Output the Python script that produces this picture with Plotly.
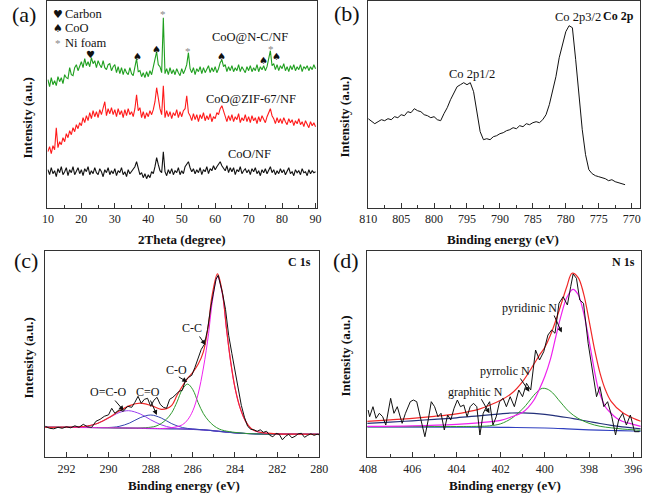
import numpy as np
import plotly.graph_objects as go

W, H = 658, 495
FONT = "Liberation Serif, Times New Roman, serif"
SYM = "DejaVu Sans, sans-serif"

# ---------------- (a) XRD ----------------
two_theta = np.arange(10, 90.01, 0.5)
xrd_nc = [128,121,130,123,127,122,131,126,130,124,
          133,130,129,140,133,132,140,143,137,142,
          146,140,149,142,146,141,150,144,147,140,
          147,143,140,147,140,138,143,144,137,141,
          143,135,141,134,140,133,139,135,133,140,
          134,132,140,149,136,137,131,135,130,136,
          131,137,133,141,147,156,143,141,135,190,
          134,139,133,140,134,138,133,139,135,132,
          139,134,138,143,155,139,135,140,133,139,
          136,141,134,140,135,138,142,135,140,136,
          141,135,139,145,148,141,143,136,141,137,
          142,136,140,137,143,136,141,138,135,141,
          137,142,136,140,137,143,136,141,138,142,
          137,141,148,157,142,144,138,143,137,142,
          139,144,137,141,136,142,138,143,137,141,
          138,143,136,141,139,142,137,141,138,143,
          139]
xrd_zif = [56,61,54,62,58,80,60,66,63,70,
           66,74,70,77,73,80,76,83,79,85,
           82,90,85,92,87,95,89,97,91,96,
           90,98,93,101,106,92,99,94,100,93,
           98,91,99,93,97,90,98,92,99,93,
           96,91,99,113,97,100,90,96,89,95,
           91,97,93,98,106,120,107,99,93,122,
           90,97,91,96,89,95,92,98,90,96,
           91,97,99,112,95,92,87,94,88,93,
           86,93,89,95,87,92,88,94,86,91,
           89,95,93,99,102,96,91,86,92,87,
           93,86,91,88,94,85,90,87,93,86,
           91,85,92,87,90,84,91,86,92,88,
           85,91,95,99,92,89,84,90,85,89,
           84,90,86,83,89,85,88,82,87,84,
           89,83,86,81,87,84,80,86,82,85,
           81]
xrd_coo = [38,33,40,34,37,31,39,35,41,33,
           36,40,32,38,35,41,33,37,40,34,
           38,32,39,36,41,33,37,34,40,35,
           33,39,36,31,38,35,40,33,37,34,
           39,32,37,35,40,33,36,31,38,34,
           36,39,41,46,38,33,35,30,34,29,
           33,30,36,34,41,50,43,37,35,56,
           36,32,38,34,39,33,37,35,40,33,
           37,34,41,44,46,40,36,39,34,38,
           35,40,33,38,36,41,34,39,37,42,
           38,41,44,46,42,39,37,42,35,40,
           36,40,33,38,36,41,34,37,39,35,
           38,33,39,36,40,34,37,32,38,35,
           39,34,37,41,35,38,33,37,34,39,
           35,38,33,37,40,34,36,32,38,35,
           37,33,39,35,36,32,38,34,37,35,
           36]

# ---------------- (b) Co 2p ----------------
co2p_be = np.arange(810, 770.9, -0.5)
co2p_int = [89,86,84,86,88,87,89,88,91,90,
            93,92,96,95,99,97,96,93,92,90,
            91,88,87,94,100,108,115,121,123,125,
            123,125,116,94,76,68,69,68,71,72,
            74,75,77,78,80,79,82,81,84,83,
            85,86,85,88,93,103,116,131,150,164,
            176,182,180,148,115,78,53,38,34,32,
            31,30,29,27,28,26,25,24,23]

# ---------------- (c) C 1s ----------------
c1s_raw_be = [293.0,292.8,292.6,292.4,292.2,292.0,291.8,291.6,291.4,291.2,
              291.0,290.8,290.6,290.4,290.2,290.0,289.85,289.7,289.5,289.3,
              289.1,288.9,288.75,288.6,288.45,288.3,288.15,288.0,287.85,287.7,
              287.55,287.4,287.25,287.1,286.95,286.8,286.65,286.5,286.35,286.2,
              286.05,285.9,285.75,285.6,285.45,285.3,285.15,285.0,284.9,284.8,
              284.7,284.6,284.45,284.3,284.15,284.0,283.85,283.7,283.55,283.4,
              283.25,283.1,282.95,282.8,282.65,282.5,282.35,282.2,282.05,281.9,
              281.75,281.6,281.45,281.3,281.15,281.0,280.85,280.7,280.55,280.4,
              280.25,280.1,280.0]
c1s_raw = [31,29,28.5,30,29,30.5,29.5,31.5,30,33,
           30.5,30,36,38,41,42.5,49,44,47.5,46,
           51,50,55,61,54,58,59,51,57,60,
           53,50,49,58,60,63,66,67,77,80,
           82,90,98,108,113,128,150,166,178,182,
           173,165,148,122,104,86,70,52,40,31,
           28,27.5,26,27.5,25,26,22,20.5,24,23,
           17.5,21,23,19.5,21,23.5,24,20,22,23.5,
           22,23,22.5]
c1s_env_be = [293,292,291.5,291,290.5,290,289.5,289,288.5,288,
              287.5,287.25,287,286.75,286.5,286.25,286,285.75,285.5,285.25,
              285.1,284.83,284.6,284.4,284.2,284,283.75,283.5,283.25,283,
              282.5,282,281,280]
c1s_env = [30,30.1,30.3,31.3,34.1,39.5,46.2,51.7,54.1,51.9,
           48,48.7,52,62,71,79,85,93,105.5,134,
           160,183.5,164.8,128.2,95.1,69.7,48.9,36.2,29,26,
           24.1,23.4,23.1,23]
c1s_cc_be = [293,290,288,287.5,287,286.5,286.25,286,285.75,285.5,285.25,285.1,
             284.83,284.6,284.4,284.2,284,283.75,283.5,283.25,283,282.5,282,281,280]
c1s_cc = [30,29.5,29,28.8,29.6,32.5,37.4,46.6,63.3,89.3,124,152,
          180.8,163.3,127.3,94.5,69.3,48.9,36.2,29,26,24.1,23.4,23.1,23]
c1s_co_be = [293,291,289,288.5,288,287.75,287.5,287.25,287,286.75,286.5,286.25,
             286,285.75,285.5,285.25,285,284.75,284.5,284,283.5,283,282,280]
c1s_co = [30,29.8,29.2,29.3,30.1,31.2,33.8,38.1,44.7,55.4,67.9,73.2,
          67.6,54.7,43.7,36.5,31.5,28.3,26.6,24.9,23.9,23.4,23.2,23]
c1s_c_o_be = [293,292,291,290,289.5,289,288.5,288,287.5,287,286.5,286,285.5,285,284,283,282,280]
c1s_c_o = [30,30,29.8,29.8,30.9,34.3,39.6,42.3,39.3,33.6,29.8,28.3,27.5,26.5,24.5,23.4,23.2,23]
c1s_oco_be = [293,292,291,290.5,290,289.5,289.05,288.5,288,287.5,287,286.5,286,285,284,283,282,280]
c1s_oco = [30,30.1,31.3,34.1,39.2,44.7,46.6,43.4,37.5,32.5,29.6,28.6,28.1,26.5,24.5,23.4,23.2,23]
c1s_bg_be = [293,291,289,287,286,285.5,285,284.5,284,283.5,283,282,280]
c1s_bg = [30,29.8,29.2,28.5,28,27.5,26.5,25.5,24.5,23.8,23.4,23.2,23]

# ---------------- (d) N 1s ----------------
n1s_raw_be = [408.0,407.93,407.78,407.64,407.49,407.34,407.2,406.98,406.83,406.68,
              406.46,406.31,406.09,405.95,405.8,405.58,405.43,405.28,405.14,404.99,
              404.84,404.7,404.55,404.4,404.26,404.11,403.96,403.82,403.67,403.52,
              403.38,403.23,403.08,402.94,402.79,402.64,402.5,402.35,402.2,402.05,
              401.89,401.74,401.57,401.38,401.18,401.01,400.83,400.64,400.42,400.24,
              400.05,399.86,399.69,399.54,399.36,399.17,398.98,398.83,398.72,398.57,
              398.42,398.25,398.04,397.85,397.66,397.51,397.33,397.16,396.97,396.8,
              396.66,396.48,396.31,396.13,395.94,395.72]
n1s_raw = [47.3,40.6,50.6,39,44,40.6,32.3,59,44,50.6,
           34,44,55.6,57.3,55.6,34,20.6,37.3,55.6,50.6,
           40.6,44,27.3,42.3,37.3,49,57.3,50.6,52.3,40.6,
           50.6,54,50.6,22.3,44,50.6,55.6,32.3,40.6,55.6,
           59,50.6,60.6,50.6,67.3,60.6,74,67.3,107.3,97.3,
           105.6,122.3,127.3,124,154,160.6,152.3,170.6,183.3,179,
           157.3,154,114,87.3,60.6,70.6,50.6,55.6,40.6,22.3,
           37.3,44,32.3,42.3,25.6,25.6]
n1s_env_be = [408.04,407,406,405,404,403.5,403,402.5,402,401.5,401,400.5,400.25,400,
              399.75,399.5,399.25,399,398.77,398.5,398.25,398,397.75,397.5,397.25,397,
              396.5,396,395.66]
n1s_env = [36,37.5,39,41,43.5,45.5,48,52,57,64,76,93,102,110,
           122,137,154,171,184,180,164,137,108,84,67,56,
           45,39,36]
n1s_pyridinic_be = [408.04,406,404,403,402,401.5,401,400.75,400.5,400.25,400,399.75,
                    399.5,399.25,399,398.73,398.5,398.25,398,397.75,397.6,397.5,397.25,
                    397,396.75,396.5,396,395.66]
n1s_pyridinic = [31,31.5,33,34.5,37,40.5,45,50,57,68,81,98,
                 121,143,160,168,163,145,117,86,70,63,50,
                 44,39,36,33,31]
n1s_pyrrolic_be = [408.04,404,403,402.5,402,401.5,401.25,401,400.75,400.5,400.25,400.1,
                   399.9,399.65,399.4,399.15,398.9,398.5,398,397.5,397,396.5,396,395.66]
n1s_pyrrolic = [30.5,30.8,31,31.5,33.5,39,43.5,48.5,55,62,67.5,69,
                68.3,64.5,58,51.5,45.5,39,34,31,29.5,28.3,27.5,27]
n1s_graphitic_be = [408.04,407,406,405,404,403,402,401.5,401,400.5,400,399.5,399,398.5,
                    398,397.5,397,396.5,396,395.66]
n1s_graphitic = [34,35.2,36.5,38,39.5,41.5,43.5,44.3,44.5,44,43,41.5,39.8,37.8,
                 35.8,33.8,32,30.5,29.3,28.5]
n1s_bg_be = [408.04,404,402,400,399,398,397,396,395.66]
n1s_bg = [30.5,30.2,30,29.3,28.5,27.5,26.8,26.3,26]

fig = go.Figure()


def add(x, y, color, ax, width=1.0, shape="linear"):
    fig.add_trace(go.Scatter(x=x, y=y, mode="lines",
                             line=dict(color=color, width=width, shape=shape),
                             xaxis="x" + ax, yaxis="y" + ax,
                             showlegend=False, hoverinfo="skip"))


# (a)
add(two_theta, xrd_coo, "#111111", "", 1.1)
add(two_theta, xrd_zif, "#ff1a1a", "", 1.1)
add(two_theta, xrd_nc, "#1f9f1f", "", 1.1)
# (b)
add(co2p_be, co2p_int, "#111111", "2", 1)
# (c)
add(c1s_bg_be, c1s_bg, "#2d3a9a", "3", 1.2, "spline")
add(c1s_oco_be, c1s_oco, "#9a3cf0", "3", 1, "spline")
add(c1s_c_o_be, c1s_c_o, "#3545b0", "3", 1, "spline")
add(c1s_co_be, c1s_co, "#2f9a2f", "3", 1, "spline")
add(c1s_cc_be, c1s_cc, "#ee22ee", "3", 1, "spline")
add(c1s_env_be, c1s_env, "#f02828", "3", 1.2, "spline")
add(c1s_raw_be, c1s_raw, "#111111", "3", 1)
# (d)
add(n1s_bg_be, n1s_bg, "#3040c0", "4", 1.2, "spline")
add(n1s_graphitic_be, n1s_graphitic, "#23307a", "4", 1.2, "spline")
add(n1s_pyrrolic_be, n1s_pyrrolic, "#2f9a2f", "4", 1, "spline")
add(n1s_pyridinic_be, n1s_pyridinic, "#ee22ee", "4", 1.2, "spline")
add(n1s_env_be, n1s_env, "#f02828", "4", 1.2, "spline")
add(n1s_raw_be, n1s_raw, "#111111", "4", 1)


def px(x):
    return x / W


def py(y):
    return 1 - y / H


def xax(x0, x1, rng, dtick, tick0, mdt, anchor):
    return dict(domain=[px(x0), px(x1)], range=rng, anchor=anchor,
                showline=True, mirror=True, linecolor="#333", linewidth=1,
                ticks="inside", ticklen=5, tickcolor="#333", tickwidth=1,
                dtick=dtick, tick0=tick0,
                minor=dict(dtick=mdt, tick0=tick0, ticks="inside", ticklen=3,
                           tickcolor="#333", showgrid=False),
                showgrid=False, zeroline=False, fixedrange=True,
                tickfont=dict(family=FONT, size=12, color="#222"))


def yax(y0, y1, rng, anchor):
    return dict(domain=[py(y1), py(y0)], range=rng, anchor=anchor,
                showline=True, mirror=True, linecolor="#333", linewidth=1,
                ticks="", showticklabels=False, showgrid=False, zeroline=False,
                fixedrange=True)


TOP1, BOT1 = 1.0, 207.7
TOP2, BOT2 = 250.7, 457.3

layout = dict(
    width=W, height=H, margin=dict(l=0, r=0, t=0, b=0),
    paper_bgcolor="white", plot_bgcolor="white",
    xaxis=xax(39.5, 316.7, [9.85, 90.45], 10, 10, 5, "y"),
    yaxis=yax(TOP1, BOT1, [0, BOT1 - TOP1], "x"),
    xaxis2=xax(369.3, 648.3, [810, 768.8], 5, 770, 2.5, "y2"),
    yaxis2=yax(TOP1, BOT1, [0, BOT1 - TOP1], "x2"),
    xaxis3=xax(36.5, 319, [293.04, 280], 2, 280, 1, "y3"),
    yaxis3=yax(TOP2, BOT2, [0, BOT2 - TOP2], "x3"),
    xaxis4=xax(368.3, 649.5, [408.04, 395.66], 2, 396, 1, "y4"),
    yaxis4=yax(TOP2, BOT2, [0, BOT2 - TOP2], "x4"),
)
fig.update_layout(**layout)

ann = []


def text(x, y, s, size=12, bold=False, color="#111", family=FONT, xanchor="center", angle=0):
    ann.append(dict(x=px(x), y=py(y), xref="paper", yref="paper", showarrow=False,
                    text=("<b>%s</b>" % s) if bold else s, xanchor=xanchor, yanchor="middle",
                    textangle=angle, font=dict(family=family, size=size, color=color)))


def arrow(tx, ty, hx, hy):
    ann.append(dict(x=px(hx), y=py(hy), xref="paper", yref="paper", text="",
                    showarrow=True, ax=tx - hx, ay=ty - hy, axref="pixel", ayref="pixel",
                    arrowhead=2, arrowsize=1, arrowwidth=1, arrowcolor="#111", standoff=0))


# panel letters
text(15, 15, "(a)", 22)
text(348, 14, "(b)", 22)
text(17, 260, "(c)", 22)
text(346, 260, "(d)", 22)

# axis titles
text(177, 239, "2Theta (degree)", 13, True)
text(508, 239, "Binding energy (eV)", 13, True)
text(180, 485, "Binding energy (eV)", 13, True)
text(510, 485, "Binding energy (eV)", 13, True)
text(20, 118, "Intensity (a.u.)", 13, True, angle=-90)
text(345, 117, "Intensity (a.u.)", 13, True, angle=-90)
text(20, 358, "Intensity (a.u.)", 13, True, angle=-90)
text(345, 356, "Intensity (a.u.)", 13, True, angle=-90)

# (a) legend
text(50.7, 14.3, "♥", 11, family=SYM)
text(50.7, 28.3, "♠", 11, family=SYM)
text(50.7, 42.7, "*", 11, color="#888")
text(56, 14.3, "Carbon", 12.5, xanchor="left")
text(56, 28.3, "CoO", 12.5, xanchor="left")
text(56, 42.7, "Ni foam", 12.5, xanchor="left")
# (a) peak markers
text(84, 54, "♥", 10, family=SYM)
for (x, y) in [(132, 56), (151.7, 50), (218.5, 56), (261.7, 60), (275.5, 56.5)]:
    text(x, y, "♠", 10, family=SYM)
for (x, y) in [(158.7, 14.5), (184.3, 51), (269.3, 49.5)]:
    text(x, y, "*", 11, color="#888")
# (a) series labels
text(247.5, 37.3, "CoO@N-C/NF", 12.5)
text(248.3, 99.3, "CoO@ZIF-67/NF", 12.5)
text(247, 154, "CoO/NF", 12.5)

# (b)
text(476, 74, "Co 2p1/2", 12.5)
text(585, 17, "Co 2p3/2", 12.5)
text(627, 16, "Co 2p", 12, True)

# (c)
text(101.7, 391.7, "O=C-O", 12)
text(143.3, 391.7, "C=O", 12)
text(171.7, 370, "C-O", 12)
text(188.3, 327.5, "C-C", 12)
text(299, 262, "C 1s", 12, True)
arrow(108, 399, 118, 410.7)
arrow(145, 399, 152, 415)
arrow(173.3, 376, 183.3, 382)
arrow(195, 335, 202, 345)

# (d)
text(535, 307.5, "pyridinic N", 12)
text(510, 371, "pyrrolic N", 12)
text(480, 391.7, "graphitic N", 12)
text(631.7, 262, "N 1s", 12, True)
arrow(560, 314, 568.3, 332.5)
arrow(525, 377, 535, 391.7)
arrow(485, 397.7, 494, 413.3)

fig.update_layout(annotations=ann)
fig.write_html("out.html", config={"displayModeBar": False},
               post_script="document.body.style.margin='0px';")
